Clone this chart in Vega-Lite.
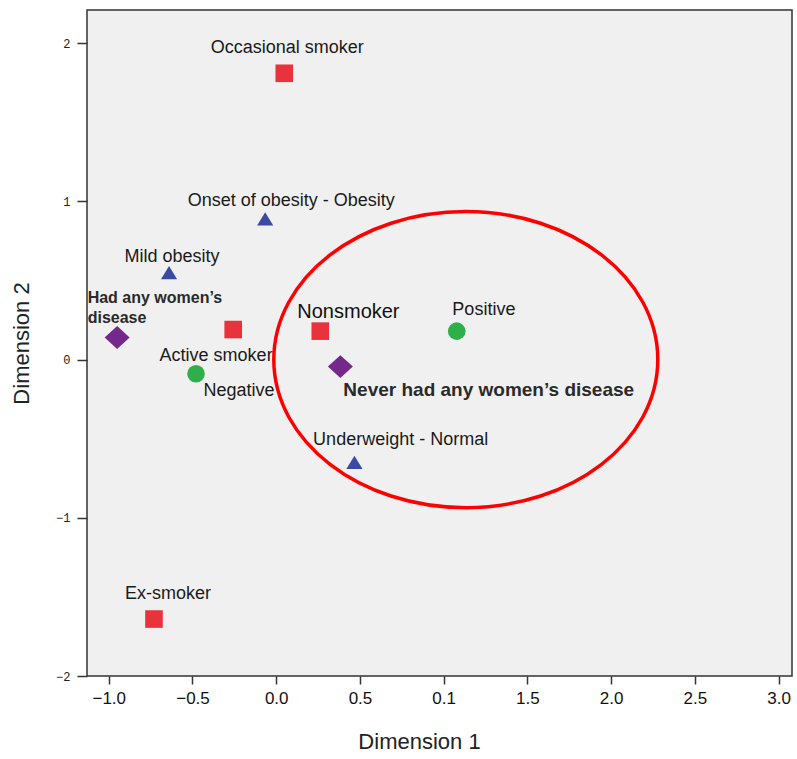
{
  "$schema": "https://vega.github.io/schema/vega-lite/v6.json",
  "width": 705,
  "height": 666,
  "autosize": {"type": "none"},
  "padding": {"left": 87, "top": 10, "right": 5, "bottom": 83},
  "background": "white",
  "config": {"view": {"fill": "#f0f0f0", "stroke": "#333333", "strokeWidth": 1.5}},
  "datasets": {
    "points": [
      {"cat": "Occasional smoker", "group": "Smoking", "x": 0.048, "y": 1.81},
      {"cat": "Active smoker", "group": "Smoking", "x": -0.257, "y": 0.19},
      {"cat": "Nonsmoker", "group": "Smoking", "x": 0.263, "y": 0.18},
      {"cat": "Ex-smoker", "group": "Smoking", "x": -0.73, "y": -1.64},
      {"cat": "Onset of obesity - Obesity", "group": "Obesity", "x": -0.066, "y": 0.89},
      {"cat": "Mild obesity", "group": "Obesity", "x": -0.64, "y": 0.55},
      {"cat": "Underweight - Normal", "group": "Obesity", "x": 0.467, "y": -0.65},
      {"cat": "Had any women's disease", "group": "Disease", "x": -0.95, "y": 0.14},
      {"cat": "Never had any women's disease", "group": "Disease", "x": 0.383, "y": -0.044},
      {"cat": "Negative", "group": "Test", "x": -0.479, "y": -0.089},
      {"cat": "Positive", "group": "Test", "x": 1.078, "y": 0.18}
    ],
    "labelsNarrow": [
      {"label": "Occasional smoker", "lx": 0.066, "ly": 1.968},
      {"label": "Onset of obesity - Obesity", "lx": 0.09, "ly": 1.0},
      {"label": "Mild obesity", "lx": -0.623, "ly": 0.646},
      {"label": "Active smoker", "lx": -0.359, "ly": 0.025},
      {"label": "Negative", "lx": -0.222, "ly": -0.196},
      {"label": "Positive", "lx": 1.24, "ly": 0.316},
      {"label": "Underweight - Normal", "lx": 0.743, "ly": -0.506},
      {"label": "Ex-smoker", "lx": -0.647, "ly": -1.481}
    ],
    "labelsPlain": [
      {"label": "Nonsmoker", "lx": 0.431, "ly": 0.304}
    ],
    "labelsBold": [
      {"label": "Never had any women’s disease", "lx": 1.269, "ly": -0.19}
    ],
    "labelsBoldSmall": [
      {"label": "Had any women’s|disease", "lx": -1.126, "ly": 0.392}
    ],
    "ellipse": [
      {"region": "highlight", "x": 1.132, "y": 0.0}
    ]
  },
  "layer": [
    {
      "data": {"name": "points"},
      "mark": {"type": "point", "filled": true, "opacity": 1, "size": 310},
      "encoding": {
        "x": {
          "field": "x", "type": "quantitative", "title": "Dimension 1",
          "scale": {"domain": [-1.13, 3.08], "nice": false, "zero": false},
          "axis": {
            "values": [-1, -0.5, 0, 0.5, 1, 1.5, 2, 2.5, 3],
            "labelExpr": "datum.value == 1 ? '0.1' : format(datum.value, '.1f')",
            "grid": false, "domain": false,
            "tickColor": "#333333", "tickSize": 8, "tickWidth": 1.5,
            "labelFont": "Liberation Sans", "labelFontSize": 17, "labelColor": "#111111", "labelPadding": 6,
            "titleFont": "Liberation Sans", "titleFontSize": 22, "titleX": 332,
            "titleFontWeight": "normal", "titleColor": "#222222", "titlePadding": 25
          }
        },
        "y": {
          "field": "y", "type": "quantitative", "title": "Dimension 2",
          "scale": {"domain": [-2, 2.21], "nice": false, "zero": false},
          "axis": {
            "values": [-2, -1, 0, 1, 2], "format": "d",
            "grid": false, "domain": false,
            "tickColor": "#333333", "tickSize": 10, "tickWidth": 1.5,
            "labelFont": "Liberation Mono", "labelFontSize": 12, "labelColor": "#222222", "labelPadding": 7,
            "titleFont": "Liberation Sans", "titleFontSize": 22,
            "titleFontWeight": "normal", "titleColor": "#222222", "titlePadding": 22
          }
        },
        "shape": {
          "field": "group", "type": "nominal",
          "scale": {"domain": ["Smoking", "Obesity", "Disease", "Test"], "range": ["square", "M0,-0.75L0.92,0.75L-0.92,0.75Z", "M-1.42,0L0,-1.3L1.42,0L0,1.3Z", "circle"]},
          "legend": null
        },
        "color": {
          "field": "group", "type": "nominal",
          "scale": {"domain": ["Smoking", "Obesity", "Disease", "Test"], "range": ["#e8333c", "#3b4ca0", "#74288a", "#2eaf4a"]},
          "legend": null
        }
      }
    },
    {
      "data": {"name": "labelsNarrow"},
      "mark": {"type": "text", "font": "Liberation Sans", "fontSize": 18, "color": "#1a1a1a", "align": "center", "baseline": "middle"},
      "encoding": {
        "x": {"field": "lx", "type": "quantitative", "title": "Dimension 1"},
        "y": {"field": "ly", "type": "quantitative", "title": "Dimension 2"},
        "text": {"field": "label", "type": "nominal"}
      }
    },
    {
      "data": {"name": "labelsPlain"},
      "mark": {"type": "text", "font": "Liberation Sans", "fontSize": 20, "color": "#111111", "align": "center", "baseline": "middle"},
      "encoding": {
        "x": {"field": "lx", "type": "quantitative", "title": "Dimension 1"},
        "y": {"field": "ly", "type": "quantitative", "title": "Dimension 2"},
        "text": {"field": "label", "type": "nominal"}
      }
    },
    {
      "data": {"name": "labelsBold"},
      "mark": {"type": "text", "font": "Liberation Sans", "fontSize": 19, "fontWeight": "bold", "color": "#2a2a2a", "align": "center", "baseline": "middle"},
      "encoding": {
        "x": {"field": "lx", "type": "quantitative", "title": "Dimension 1"},
        "y": {"field": "ly", "type": "quantitative", "title": "Dimension 2"},
        "text": {"field": "label", "type": "nominal"}
      }
    },
    {
      "data": {"name": "labelsBoldSmall"},
      "mark": {"type": "text", "font": "Liberation Sans", "fontSize": 16, "fontWeight": "bold", "color": "#2a2a2a", "align": "left", "baseline": "middle", "lineBreak": "|", "lineHeight": 20},
      "encoding": {
        "x": {"field": "lx", "type": "quantitative", "title": "Dimension 1"},
        "y": {"field": "ly", "type": "quantitative", "title": "Dimension 2"},
        "text": {"field": "label", "type": "nominal"}
      }
    },
    {
      "data": {"name": "ellipse"},
      "mark": {
        "type": "point", "filled": false, "opacity": 1,
        "shape": "M-1,0A1,0.771,0,1,1,1,0A1,0.771,0,1,1,-1,0Z",
        "size": 147456, "stroke": "#ff0000", "strokeWidth": 3.5
      },
      "encoding": {
        "x": {"field": "x", "type": "quantitative", "title": "Dimension 1"},
        "y": {"field": "y", "type": "quantitative", "title": "Dimension 2"}
      }
    }
  ]
}
